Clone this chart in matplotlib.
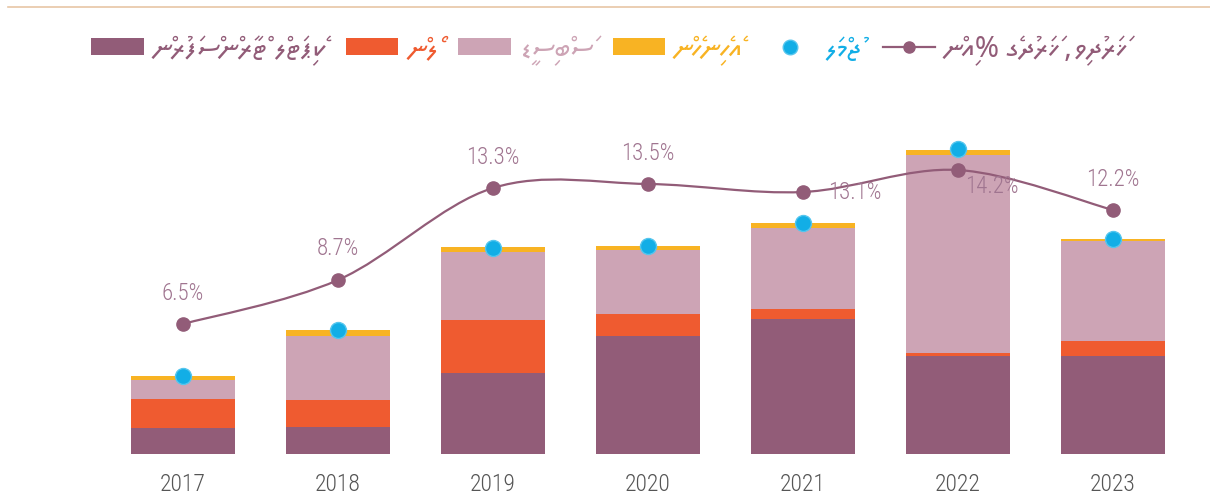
import unicodedata
import matplotlib
matplotlib.use("Agg")
import matplotlib.pyplot as plt
from matplotlib.path import Path
from matplotlib.patches import PathPatch, Patch
from matplotlib.lines import Line2D
from matplotlib.font_manager import FontProperties
import numpy as np

# ---------------- data ----------------
years = ["2017", "2018", "2019", "2020", "2021", "2022", "2023"]
capital_transfers = [260, 270, 810, 1180, 1350, 980, 980]
loans = [290, 270, 530, 220, 100, 30, 150]
subsidies = [190, 640, 680, 640, 810, 1980, 1000]
others = [40, 60, 50, 40, 50, 50, 20]
totals = [780, 1240, 2060, 2080, 2310, 3050, 2150]
pct_of_expenditure = [6.5, 8.7, 13.3, 13.5, 13.1, 14.2, 12.2]
pct_labels = ["6.5%", "8.7%", "13.3%", "13.5%", "13.1%", "14.2%", "12.2%"]

lbl_capital = "ކެޕިޓަލް ޓްރާންސްފަރުން"
lbl_loans = "ލޯން"
lbl_subsidies = "ސަބްސިޑީ"
lbl_others = "އެހެނިހެން"
lbl_total = "ޖުމްލަ"
lbl_pct = "ޚަރަދުވި، ޚަރަދުގެ %އިން"

# ---------------- style ----------------
C_DARK = "#925C78"
C_ORANGE = "#EF5B30"
C_PINK = "#CDA4B5"
C_YELLOW = "#F8B323"
C_BLUE = "#12AEE6"
C_LINE = "#925C78"
C_PCT = "#A07590"
NUM_FONT = ["Roboto Condensed", "Liberation Sans Narrow", "DejaVu Sans"]
THAANA_FONT = ["Noto Sans Thaana", "FreeSerif", "DejaVu Sans"]


def visual_rtl(s):
    """Reorder an RTL Thaana string into visual (left-to-right) order,
    keeping each base letter together with its vowel marks."""
    clusters = []
    for ch in s:
        if clusters and unicodedata.category(ch).startswith("M"):
            clusters[-1] += ch
        else:
            clusters.append(ch)
    return "".join(reversed(clusters))


W, H = 1210, 502
fig = plt.figure(figsize=(W / 100, H / 100), dpi=100)

# axes geometry in pixels
L, R, B, T = 105.5, 1190.5, 455, 102
ax = fig.add_axes([L / W, 1 - B / H, (R - L) / W, (B - T) / H])
ax2 = ax.twinx()

x = np.arange(len(years))
bw = 0.665
bottom = np.zeros(len(years))
for vals, col in [(capital_transfers, C_DARK), (loans, C_ORANGE),
                  (subsidies, C_PINK), (others, C_YELLOW)]:
    ax.bar(x, vals, bw, bottom=bottom, color=col, linewidth=0, zorder=2)
    bottom += np.array(vals)

ax.set_xlim(-0.5, len(years) - 0.5)
ax.set_ylim(0, 3530)
ax2.set_ylim(0, (B - T) / 20.0)

# totals (blue dots) drawn on top
ax.plot(x, totals, linestyle="none", marker="o", markersize=11.5,
        markerfacecolor=C_BLUE, markeredgecolor="#55C6EE", markeredgewidth=1.0,
        zorder=6)

# smooth line (Catmull-Rom through the data points, as cubic Bezier)
pts = np.column_stack([x, pct_of_expenditure]).astype(float)
verts = [tuple(pts[0])]
codes = [Path.MOVETO]
n = len(pts)
for i in range(n - 1):
    p0 = pts[i - 1] if i > 0 else pts[i]
    p1 = pts[i]
    p2 = pts[i + 1]
    p3 = pts[i + 2] if i + 2 < n else pts[i + 1]
    c1 = p1 + (p2 - p0) / 6.0
    c2 = p2 - (p3 - p1) / 6.0
    verts += [tuple(c1), tuple(c2), tuple(p2)]
    codes += [Path.CURVE4] * 3
ax2.add_patch(PathPatch(Path(verts, codes), facecolor="none", edgecolor=C_LINE,
                        linewidth=1.6, zorder=4))
ax2.plot(x, pct_of_expenditure, linestyle="none", marker="o", markersize=9.5,
         color=C_LINE, zorder=5)

# percentage labels
offsets = [(0, 22.5), (0, 23.5), (0, 23), (0, 22.5), (37, 0), (24, -11), (0, 23)]
for xi, yi, t, off in zip(x, pct_of_expenditure, pct_labels, offsets):
    ax2.annotate(t, (xi, yi), xytext=off, textcoords="offset points",
                 ha="center", va="center", fontsize=16.5, color=C_PCT,
                 family=NUM_FONT, fontweight="light", zorder=7)

# axes styling
for a in (ax, ax2):
    for s in a.spines.values():
        s.set_visible(False)
    a.set_yticks([])
ax.set_xticks(x)
ax.set_xticklabels(years, fontsize=17, color="#555555", family=NUM_FONT,
                   fontweight="light")
ax.tick_params(axis="x", length=0, pad=13)
ax.set_zorder(1)
ax2.set_zorder(2)
ax.patch.set_visible(False)
ax2.patch.set_visible(False)

# legend
handles = [
    Patch(facecolor=C_DARK, edgecolor="none"),
    Patch(facecolor=C_ORANGE, edgecolor="none"),
    Patch(facecolor=C_PINK, edgecolor="none"),
    Patch(facecolor=C_YELLOW, edgecolor="none"),
    Line2D([], [], linestyle="none", marker="o", markersize=10.5,
           markerfacecolor=C_BLUE, markeredgecolor="#55C6EE"),
    Line2D([], [], color=C_LINE, linewidth=1.6, marker="o", markersize=8),
]
labels = [visual_rtl(s) for s in
          [lbl_capital, lbl_loans, lbl_subsidies, lbl_others, lbl_total, lbl_pct]]
fsz = 21
leg = fig.legend(handles, labels, ncol=6, loc="center",
                 bbox_to_anchor=(609 / W, 1 - 51 / H), frameon=False,
                 prop=FontProperties(family=THAANA_FONT, size=fsz),
                 handlelength=1.8, handleheight=0.55, handletextpad=0.3,
                 columnspacing=0.7)
for txt, col in zip(leg.get_texts(),
                    [C_DARK, C_ORANGE, C_PINK, C_YELLOW, C_BLUE, C_LINE]):
    txt.set_color(col)

# thin rule at the top
fig.add_artist(Line2D([8 / W, 1], [1 - 8 / H, 1 - 8 / H], color="#E8C6A6",
                      linewidth=1.2, transform=fig.transFigure))

fig.savefig("out.png", dpi=100)
